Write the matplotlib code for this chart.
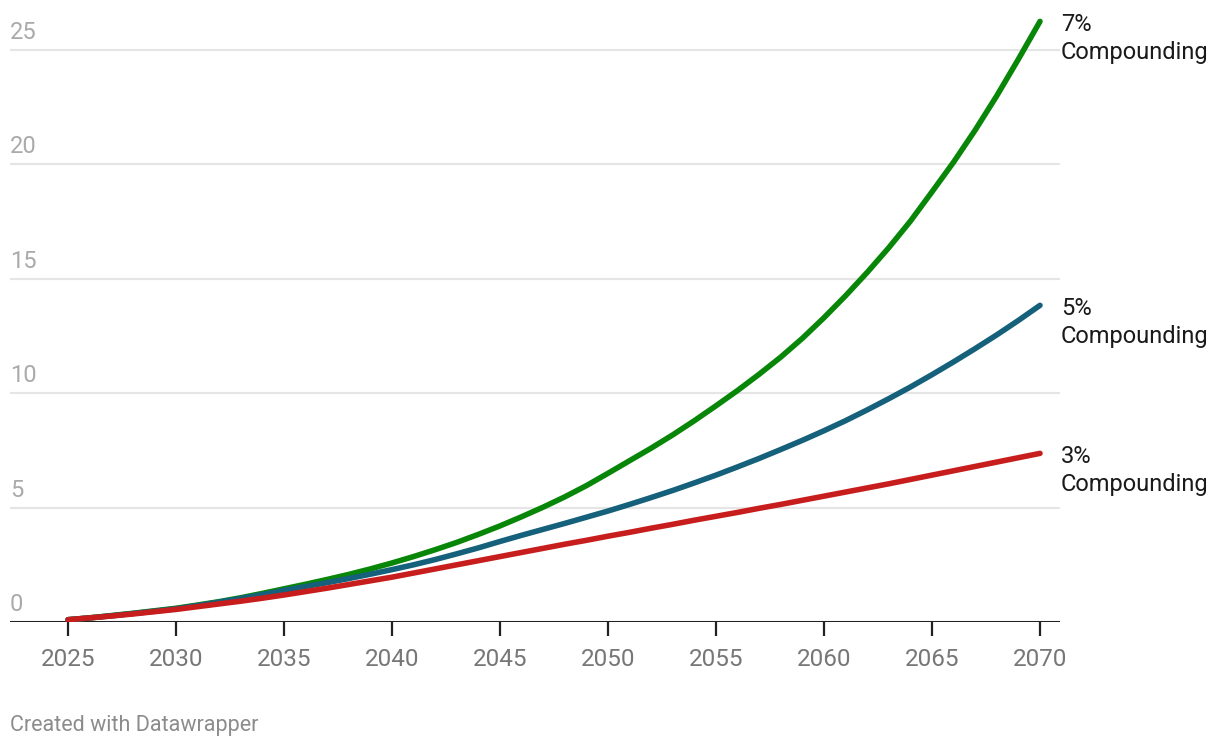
import matplotlib.pyplot as plt

plt.rcParams['font.family'] = ['Roboto', 'DejaVu Sans']

years = list(range(2025, 2071))
seven = [0.1, 0.18, 0.28, 0.38, 0.49, 0.6, 0.74, 0.89, 1.06, 1.25,
         1.45, 1.65, 1.86, 2.08, 2.32, 2.58, 2.86, 3.16, 3.48, 3.83,
         4.2, 4.6, 5.02, 5.47, 5.96, 6.5, 7.05, 7.6, 8.18, 8.8,
         9.45, 10.12, 10.83, 11.58, 12.4, 13.3, 14.26, 15.28, 16.36, 17.52,
         18.8, 20.1, 21.5, 23.0, 24.6, 26.25]
five = [0.1, 0.18, 0.27, 0.37, 0.47, 0.58, 0.72, 0.87, 1.03, 1.2,
        1.38, 1.55, 1.72, 1.9, 2.09, 2.29, 2.5, 2.73, 2.98, 3.24,
        3.52, 3.79, 4.05, 4.31, 4.58, 4.85, 5.14, 5.44, 5.75, 6.08,
        6.42, 6.78, 7.15, 7.54, 7.94, 8.36, 8.8, 9.27, 9.76, 10.27,
        10.81, 11.37, 11.95, 12.55, 13.18, 13.84]
three = [0.1, 0.18, 0.26, 0.35, 0.45, 0.55, 0.67, 0.79, 0.91, 1.04,
         1.18, 1.33, 1.48, 1.64, 1.8, 1.96, 2.14, 2.32, 2.5, 2.68,
         2.86, 3.04, 3.22, 3.4, 3.57, 3.75, 3.92, 4.1, 4.27, 4.45,
         4.62, 4.79, 4.97, 5.14, 5.32, 5.5, 5.68, 5.86, 6.04, 6.23,
         6.42, 6.61, 6.8, 6.99, 7.18, 7.37]

series = [
    ('7%', seven, '#078607'),
    ('5%', five, '#15607a'),
    ('3%', three, '#c71e1d'),
]
y_ticks = [0, 5, 10, 15, 20, 25]
x_ticks = list(range(2025, 2071, 5))

fig = plt.figure(figsize=(12.2, 7.48), dpi=100)
ax = fig.add_axes([10 / 1220, 126 / 748, 1050 / 1220, 607 / 748])

# gridlines
for v in y_ticks[1:]:
    ax.axhline(v, color='#e5e5e5', lw=1.5, zorder=1)
ax.axhline(0, color='#222222', lw=2.2, zorder=3)

for name, vals, col in series:
    ax.plot(years, vals, color=col, lw=4, solid_capstyle='round',
            solid_joinstyle='round', zorder=4)
    ax.annotate(name, (years[-1], vals[-1]), xytext=(21, -3),
                textcoords='offset pixels', va='center', ha='left',
                fontsize=17, color='#1a1a1a')
    ax.annotate('Compounding', (years[-1], vals[-1]), xytext=(21, -31),
                textcoords='offset pixels', va='center', ha='left',
                fontsize=17, color='#1a1a1a')

# y labels sit above gridlines
for v in y_ticks:
    ax.annotate(str(v), (0, v), xycoords=('axes fraction', 'data'),
                xytext=(0, 6), textcoords='offset pixels',
                ha='left', va='bottom', fontsize=17, color='#aaaaaa')

ax.set_xlim(2025 - 58 / 21.6, 2070 + 20 / 21.6)
ax.set_ylim(0, 607 / 22.88)
ax.set_xticks(x_ticks)
ax.set_xticklabels([str(y) for y in x_ticks])
ax.set_yticks([])
ax.tick_params(axis='x', length=10, width=1.6, color='#222222', pad=9,
               labelsize=17.5, labelcolor='#777777')
for s in ax.spines.values():
    s.set_visible(False)

fig.text(10 / 1220, 1 - 726 / 748, 'Created with Datawrapper', ha='left',
         va='center', fontsize=15.5, color='#8c8c8c')

fig.savefig('out.png', dpi=100)
